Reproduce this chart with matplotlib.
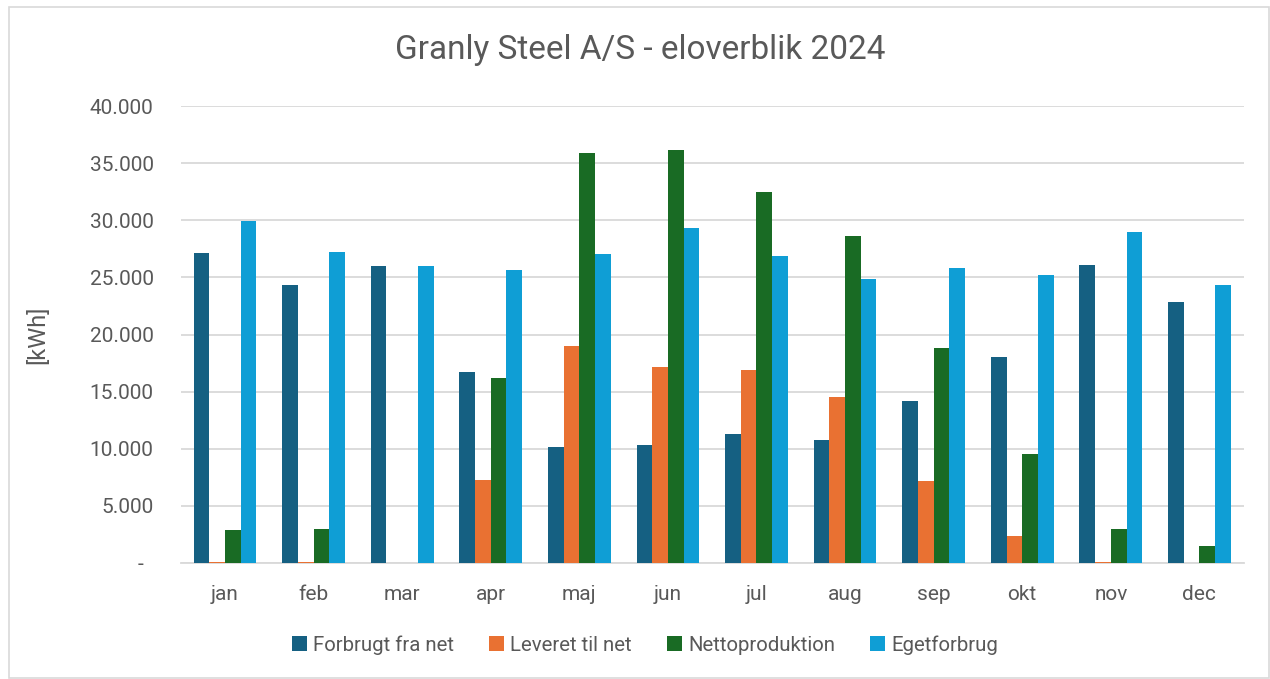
import numpy as np
import matplotlib
matplotlib.use("Agg")
from matplotlib import pyplot as plt
from matplotlib.patches import Rectangle
from matplotlib.ticker import FuncFormatter

plt.rcParams['font.family'] = ['Roboto', 'DejaVu Sans']

# Data (kWh)
months = ['jan', 'feb', 'mar', 'apr', 'maj', 'jun', 'jul', 'aug', 'sep', 'okt', 'nov', 'dec']
forbrugt = [27130, 24300, 26020, 16700, 10180, 10320, 11320, 10760, 14180, 18070, 26080, 22870]
leveret = [50, 50, 0, 7250, 19000, 17160, 16900, 14500, 7160, 2370, 50, 0]
netto = [2870, 2950, 0, 16200, 35900, 36170, 32430, 28630, 18860, 9500, 2980, 1460]
egetforbrug = [29970, 27200, 26020, 25670, 27080, 29360, 26900, 24850, 25850, 25180, 28980, 24360]

series_names = ['Forbrugt fra net', 'Leveret til net', 'Nettoproduktion', 'Egetforbrug']
colors = ['#156082', '#E97132', '#196B24', '#0F9ED5']

fig = plt.figure(figsize=(12.7, 6.79), dpi=100)
ax = fig.add_axes([180.7 / 1270, 1 - 563 / 679, 1063 / 1270, 457 / 679])

# light frame around the chart
fig.patches.append(Rectangle((9 / 1270, 0.002), 1 - 9 / 1270 - 0.001, 1 - 8 / 679,
                             transform=fig.transFigure, fill=False,
                             edgecolor='#d9d9d9', linewidth=1.2))

x = np.arange(len(months))
width = 0.177
for i, (vals, name, c) in enumerate(zip([forbrugt, leveret, netto, egetforbrug], series_names, colors)):
    ax.bar(x + (i - 1.5) * width, vals, width, color=c, label=name, zorder=3)

ax.set_xlim(-0.5, len(months) - 0.5)
ax.set_ylim(0, 40000)
ax.set_yticks(np.arange(0, 40001, 5000))


def fmt(v, pos):
    if v == 0:
        return '-  '
    return f'{int(v):,}'.replace(',', '.')


ax.yaxis.set_major_formatter(FuncFormatter(fmt))
ax.set_xticks(x)
ax.set_xticklabels(months)
ax.grid(axis='y', color='#d9d9d9', linewidth=1.3, zorder=0)
for s in ['top', 'right', 'left']:
    ax.spines[s].set_visible(False)
ax.spines['bottom'].set_color('#d9d9d9')
ax.spines['bottom'].set_linewidth(1.3)
ax.tick_params(axis='both', length=0, labelsize=15, labelcolor='#595959')
ax.tick_params(axis='y', pad=19.5)
ax.tick_params(axis='x', pad=16)

ax.set_ylabel('[kWh]', fontsize=17, color='#595959', labelpad=29)
fig.text(640 / 1270, 1 - 50 / 679, 'Granly Steel A/S - eloverblik 2024', ha='center', va='center',
         fontsize=24, color='#595959')

leg = fig.legend(loc='center', bbox_to_anchor=(645 / 1270, 1 - 645 / 679), ncol=4, frameon=False,
                 fontsize=14.7, handlelength=0.75, handleheight=0.75, handletextpad=0.3, columnspacing=1.7)
for t in leg.get_texts():
    t.set_color('#595959')

fig.savefig('out.png', dpi=100)
